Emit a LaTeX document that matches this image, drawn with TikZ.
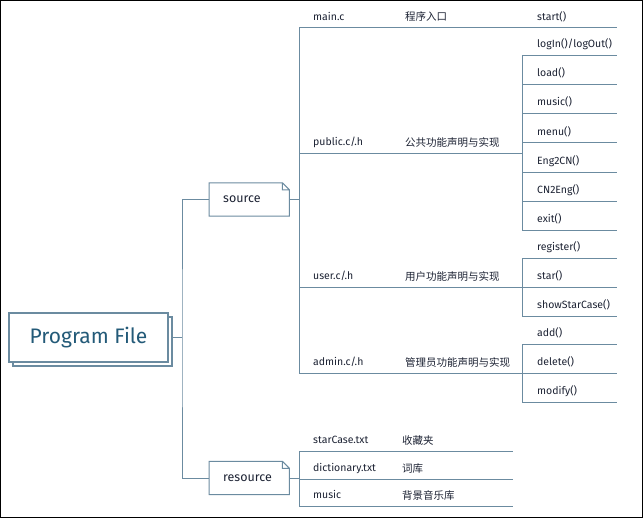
\documentclass[tikz,border=0pt]{standalone}
\usepackage{fontspec}
\setmainfont{Fira Sans}
\newfontfamily\cjk{Noto Sans CJK SC}
\usepackage{tikz}
\usetikzlibrary{shadows}

\definecolor{linec}{HTML}{6B8BA0}
\definecolor{txtc}{HTML}{1C2233}
\definecolor{rootc}{HTML}{235A78}

\tikzset{
  line/.style={draw=linec,line width=1pt},
  small/.style={font=\fontsize{10.5}{12}\selectfont,text=txtc},
  rowbox/.style={small,anchor=south west,inner xsep=0pt,inner ysep=7pt,
    text depth=0pt,align=left,execute at begin node={\hspace*{14pt}}},
  leafbox/.style={small,anchor=south west,inner xsep=0pt,inner ysep=7pt,
    text depth=0pt,align=left,text width=95pt,execute at begin node={\hspace*{15pt}}},
  desc/.style={anchor=base west,inner sep=0pt,text=txtc,font=\cjk\fontsize{10.5}{12}\selectfont},
  docbox/.style={anchor=west,inner xsep=0pt,text width=80pt,minimum height=33pt,
    align=left,text=txtc,font=\fontsize{12.5}{14}\selectfont,
    execute at begin node={\hspace*{14pt}}}
}

\begin{document}
\begin{tikzpicture}[x=1pt,y=-1pt]
\useasboundingbox (0,0) rectangle (644,519);
\draw[line width=1.3pt] (0.6,0.6) rectangle (642.4,517.4);

% root and the two folders
\node[draw=linec,line width=1.2pt,fill=white,minimum width=159pt,minimum height=49pt,
      copy shadow={shadow xshift=4pt,shadow yshift=-4pt,draw=linec,line width=1.2pt,fill=white},
      font=\fontsize{21}{24}\selectfont,text=rootc] (pf) at (88.5,337.5) {Program File};
\node[docbox] (src) at (209,199.5) {source};
\node[docbox] (res) at (209,478) {resource};
\foreach \b in {src,res}
  \draw[line] (\b.south west) -- (\b.north west) -- ([xshift=-7pt]\b.north east)
    -- ([yshift=-7pt]\b.north east) -- (\b.south east) -- cycle
    ([xshift=-7pt]\b.north east) |- ([yshift=-7pt]\b.north east);

% files
\begin{scope}[every node/.style={rowbox,text width=223pt}]
    \node (main) at (299,28) {main.c};
    \node (pub) at (299,153) {public.c/.h};
    \node (usr) at (299,287) {user.c/.h};
    \node (adm) at (299,373) {admin.c/.h};
\end{scope}
\begin{scope}[every node/.style={rowbox,text width=214pt}]
    \node (starc) at (299,451) {starCase.txt};
    \node (dict) at (299,479) {dictionary.txt};
    \node (mus) at (299,506) {music};
\end{scope}
\node[desc] (maind) at (405,21) {程序入口};
\node[desc] (pubd) at (405,146) {公共功能声明与实现};
\node[desc] (usrd) at (405,280) {用户功能声明与实现};
\node[desc] (admd) at (405,366) {管理员功能声明与实现};
\node[desc] (starcd) at (402,444) {收藏夹};
\node[desc] (dictd) at (402,472) {词库};
\node[desc] (musd) at (402,499) {背景音乐库};

% functions
\begin{scope}[every node/.style={leafbox}]
    \node (start) at (522,28) {start()};
    \node (login) at (522,55) {logIn()/logOut()};
    \node (load) at (522,84) {load()};
    \node (music) at (522,113) {music()};
    \node (menu) at (522,142.5) {menu()};
    \node (e2c) at (522,172) {Eng2CN()};
    \node (c2e) at (522,201) {CN2Eng()};
    \node (exit) at (522,230) {exit()};
    \node (reg) at (522,258) {register()};
    \node (star) at (522,287) {star()};
    \node (scase) at (522,316) {showStarCase()};
    \node (add) at (522,344) {add()};
    \node (del) at (522,373) {delete()};
    \node (modi) at (522,402) {modify()};
\end{scope}

% connectors
\coordinate (hub) at (182,337.5);
\draw[line] ([xshift=4pt]pf.east) -- (hub);
\draw[line] (src.west) -| (hub) |- (res.west);
\draw[line] (src.east) -- (src.east -| main.south west);
\draw[line] (main.south west) -- (adm.south west);
\draw[line] (res.east) -- (res.east -| starc.south west);
\draw[line] (starc.south west) -- (mus.south west);
\draw[line] (login.south west) -- (exit.south west);
\draw[line] (reg.south west) -- (scase.south west);
\draw[line] (add.south west) -- (modi.south west);
\foreach \n in {main,pub,usr,adm,starc,dict,mus,start,login,load,music,menu,e2c,c2e,exit,reg,star,scase,add,del,modi}
  \draw[line] (\n.south west) -- (\n.south east);
\end{tikzpicture}
\end{document}
